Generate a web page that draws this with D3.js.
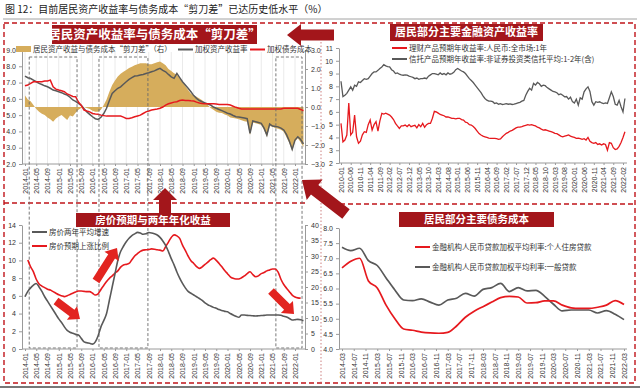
<!DOCTYPE html>
<html>
<head>
<meta charset="utf-8">
<script src="https://cdn.jsdelivr.net/npm/d3@7"></script>
<style>
body { margin: 0; background: #fff; }
svg { font-family: "Noto Sans CJK SC", "Noto Sans", sans-serif; }
</style>
</head>
<body>
<svg id="chart" width="640" height="389"></svg>
<script>
/* Figure 12: household asset yield vs debt cost ("scissors gap") */

// ---- top-left: monthly, 2014-01 .. 2022-04
const tlTicks = ["2014-01","2014-05","2014-09","2015-01","2015-05","2015-09","2016-01","2016-05","2016-09",
  "2017-01","2017-05","2017-09","2018-01","2018-05","2018-09","2019-01","2019-05","2019-09",
  "2020-01","2020-05","2020-09","2021-01","2021-05","2021-09","2022-01"];
const assetYield = [7.4,7.3,7.25,7.15,7.05,6.95,6.88,6.8,6.74,6.65,
  6.54,6.5,6.44,6.38,6.3,6.23,6.1,5.93,5.85,5.72,
  5.6,5.4,5.2,5.05,4.9,4.78,4.74,4.87,5.1,5.42,
  5.9,6.33,6.5,6.65,6.74,6.9,7.05,7.2,7.3,7.4,
  7.42,7.46,7.5,7.56,7.6,7.66,7.72,7.8,7.87,7.75,
  7.66,7.5,7.35,7.26,7.56,7.3,7.05,6.85,6.65,6.44,
  6.2,6.03,5.9,5.82,5.75,5.68,5.62,5.5,5.42,5.35,
  5.28,5.2,5.12,5.07,4.98,4.9,4.88,4.85,4.82,4.78,
  3.88,4.65,4.6,4.55,4.5,4.2,3.78,4.45,4.33,4.3,
  4.28,4.2,4.09,3.8,3.4,2.9,3.47,3.67,3.5,3.23];
const debtCost = [6.8,6.85,6.95,7.05,7.05,7.05,7.05,7.1,7.1,7.15,
  6.74,6.6,6.54,6.5,6.44,6.3,6.23,6.15,6.13,5.8,
  5.6,5.31,5.25,5.2,5.1,5.07,5.05,5.0,4.97,4.94,
  4.94,4.94,4.94,4.94,4.94,4.88,4.8,4.8,4.84,4.9,
  4.95,5.0,5.1,5.2,5.25,5.31,5.35,5.38,5.42,5.5,
  5.62,5.7,5.75,5.8,5.82,5.9,5.93,5.9,5.9,5.88,
  5.87,5.8,5.75,5.72,5.7,5.7,5.7,5.7,5.68,5.65,
  5.65,5.65,5.65,5.62,5.55,5.48,5.42,5.38,5.38,5.38,
  5.38,5.38,5.38,5.38,5.38,5.38,5.38,5.38,5.38,5.38,
  5.38,5.38,5.42,5.42,5.42,5.42,5.42,5.42,5.35,5.27];
const scissorGap = [0.6,0.4,0.3,0.1,-0.1,-0.25,-0.35,-0.42,-0.55,-0.65,
  -0.77,-0.6,-0.5,-0.42,-0.55,-0.68,-0.45,-0.5,-0.3,-0.15,
  -0.05,0.0,-0.05,-0.1,-0.2,-0.25,-0.25,-0.15,0.1,0.4,
  0.8,1.16,1.4,1.6,1.75,1.86,1.95,2.05,2.12,2.2,
  2.25,2.3,2.3,2.3,2.25,2.25,2.3,2.35,2.4,2.3,
  2.2,2.0,1.9,1.77,1.7,1.5,1.3,1.1,0.9,0.7,
  0.6,0.54,0.45,0.35,0.2,0.1,-0.05,-0.15,-0.25,-0.3,
  -0.32,-0.4,-0.45,-0.55,-0.58,-0.6,-0.65,-0.7,-0.75,-0.77,
  -1.47,-0.82,-0.86,-0.9,-0.95,-1.2,-1.56,-1.0,-1.04,-1.1,
  -1.15,-1.2,-1.3,-1.6,-1.9,-2.3,-1.8,-1.65,-1.85,-2.1];
// highlighted periods (month index from 2014-01)
const periods = [[1.5, 18.5], [26.3, 43.7], [89.2, 98.5]];

// ---- bottom-left: monthly, same months
const houseGrowth = [5.9,6.5,6.9,7.2,7.4,7.0,6.5,5.9,5.4,4.9,
  4.4,3.9,3.4,3.0,2.5,2.1,1.9,1.77,1.65,1.58,
  1.2,0.8,0.7,0.64,0.55,0.8,1.5,2.5,3.2,4.0,
  5.5,7.0,8.5,10.0,11.0,11.6,12.1,12.5,12.8,13.0,
  13.17,13.1,12.95,13.0,13.15,13.1,13.0,12.87,12.6,12.2,
  11.7,11.0,10.2,9.5,8.7,8.0,7.4,6.9,6.5,6.3,
  6.1,5.9,5.7,5.5,5.2,5.0,4.85,4.7,4.6,4.45,
  4.35,4.25,4.2,4.0,3.84,3.7,3.58,3.84,3.84,3.8,
  3.78,3.75,3.72,3.75,3.78,3.8,3.84,3.84,3.84,3.84,
  3.84,3.8,3.7,3.6,3.45,3.27,3.3,3.35,3.3,3.2];
const expectStart = 1; // starts 2014-02
const houseExpect = [28.7,26.5,24.9,22.5,21.0,20.3,19.8,19.3,19.0,18.5,
  18.0,17.5,17.2,16.9,17.2,17.6,18.0,18.4,18.7,18.7,
  18.6,18.5,18.5,18.0,17.4,17.8,19.2,20.5,21.8,22.8,
  23.6,24.5,25.2,26.4,27.1,27.3,27.6,28.8,30.0,30.8,
  31.5,31.9,32.0,32.1,32.3,32.2,32.0,31.9,31.6,33.0,
  34.5,36.0,36.8,36.5,35.7,33.5,31.8,30.0,28.5,27.6,
  26.6,26.0,26.5,27.3,28.0,28.8,29.3,28.6,27.6,26.5,
  25.3,24.3,23.3,22.8,22.6,22.6,23.0,23.6,24.3,24.9,
  24.0,23.3,23.6,24.3,24.7,25.2,25.5,25.8,25.8,24.8,
  22.5,20.8,19.6,18.5,17.4,16.8,16.5,16.4];

// ---- top-right: monthly, 2010-01 .. 2022-03
const trTicks = ["2010-01","2010-06","2010-11","2011-04","2011-09","2012-02","2012-07","2012-12","2013-05","2013-10",
  "2014-03","2014-08","2015-01","2015-06","2015-11","2016-04","2016-09","2017-02","2017-07","2017-12",
  "2018-05","2018-10","2019-03","2019-08","2020-01","2020-06","2020-11","2021-04","2021-09","2022-02"];
const wealthYield = [5.1,3.66,3.8,4.19,6.7,4.19,4.4,5.75,4.05,3.54,
  3.7,4.2,4.45,4.4,5.0,5.36,4.58,5.0,5.23,4.5,
  5.3,5.88,5.83,5.9,5.83,5.75,5.6,5.4,5.1,4.9,
  4.71,4.9,4.9,4.97,4.85,5.0,4.84,4.9,4.95,4.75,
  5.0,4.84,5.1,4.8,5.0,5.1,5.1,5.5,6.05,6.0,
  5.9,5.8,5.75,5.7,5.6,5.6,5.55,5.5,5.5,5.45,
  5.5,5.5,5.4,5.36,5.2,5.15,5.0,4.97,4.85,4.7,
  4.5,4.3,4.19,4.1,4.05,4.0,3.95,3.93,3.92,3.93,
  3.9,3.85,3.88,4.05,4.2,4.32,4.4,4.5,4.55,4.65,
  4.75,4.8,4.8,4.84,4.9,4.95,5.0,4.97,5.0,4.95,
  4.9,4.8,4.75,4.65,4.58,4.6,4.55,4.5,4.45,4.4,
  4.32,4.3,4.2,4.1,4.05,4.1,4.15,4.2,4.1,4.05,
  4.0,3.93,3.95,3.9,3.85,3.9,3.8,4.0,3.7,3.6,
  3.54,3.6,3.45,3.5,3.41,3.5,3.45,3.0,3.6,3.54,
  3.2,3.05,3.1,3.3,3.6,4.0,4.45];
const trustYield = [8.4,7.2,7.3,7.45,7.7,7.96,7.7,8.09,8.0,8.35,
  8.3,8.45,8.6,8.55,8.6,8.8,9.0,9.13,9.13,9.25,
  9.4,9.52,9.7,9.6,9.55,9.52,9.3,9.2,9.0,9.05,
  8.95,8.9,8.87,8.9,8.87,8.8,8.75,8.7,8.6,8.65,
  8.55,8.6,8.6,8.65,8.6,8.8,8.9,9.0,9.0,8.95,
  8.9,9.05,8.93,9.0,8.9,9.05,8.95,9.0,9.1,9.3,
  9.4,9.3,9.2,9.13,9.0,8.8,8.6,8.45,8.3,8.1,
  7.9,7.7,7.5,7.25,7.05,6.92,6.85,6.85,6.8,6.66,
  6.7,6.6,6.65,6.58,6.6,6.65,6.6,6.62,6.58,6.6,
  6.65,6.7,6.75,6.84,6.9,7.3,7.6,7.84,7.7,8.23,
  8.1,8.3,8.2,8.0,8.09,8.05,7.9,7.8,7.7,7.6,
  7.57,7.5,7.35,7.4,7.3,7.18,7.2,7.0,7.15,6.8,
  6.7,7.0,6.53,7.1,7.0,7.57,7.8,7.96,7.6,6.8,
  6.53,6.8,6.75,6.79,6.7,6.65,6.7,6.66,7.1,7.57,
  7.2,6.6,6.53,6.9,6.4,6.0,7.05];

// ---- bottom-right: quarterly, 2014-03 .. 2022-03
const brTicks = ["2014-03","2014-07","2014-11","2015-03","2015-07","2015-11","2016-03","2016-07","2016-11",
  "2017-03","2017-07","2017-11","2018-03","2018-07","2018-11","2019-03","2019-07","2019-11",
  "2020-03","2020-07","2020-11","2021-03","2021-07","2021-11","2022-03"];
const mortgageRate = [6.68,6.9,7.0,6.25,6.02,5.45,5.0,4.66,4.62,4.56,4.53,4.52,4.55,4.76,5.05,5.25,
  5.4,5.55,5.7,5.74,5.72,5.52,5.53,5.59,5.59,5.45,5.36,5.34,5.34,5.38,5.45,5.6,5.47];
const loanRate = [7.36,7.25,7.33,6.92,6.76,6.35,5.95,5.62,5.6,5.66,5.55,5.45,5.62,5.68,5.84,5.75,
  5.97,6.03,6.17,5.9,6.03,5.92,5.94,5.74,5.48,5.26,5.29,5.29,5.29,5.19,5.27,5.15,4.97];

const RED = "#e6191e", GRAY = "#595959", TAN = "#d6ad5c", DARKRED = "#a3161b";

const svg = d3.select("#chart");

styleAxis = (g, rotate) => {
  g.attr("font-family", "'Liberation Sans', Arial, sans-serif");
  g.select(".domain").attr("stroke", "#9a9a9a");
  g.selectAll(".tick line").attr("stroke", "#9a9a9a");
  g.selectAll(".tick text").attr("fill", "#333").style("font-size", "7px");
  if (rotate) {
    g.selectAll(".tick text")
      .attr("transform", "rotate(-90)")
      .attr("text-anchor", "end")
      .attr("x", -4).attr("y", 0).attr("dy", "0.32em");
  }
};

blockArrow = (tail, tip, shaftW, headW, headL, fill) => {
  const dx = tip[0] - tail[0], dy = tip[1] - tail[1];
  const len = Math.hypot(dx, dy), ux = dx / len, uy = dy / len, px = -uy, py = ux;
  const bx = tip[0] - ux * headL, by = tip[1] - uy * headL;
  const pts = [
    [tail[0] + px * shaftW / 2, tail[1] + py * shaftW / 2],
    [bx + px * shaftW / 2, by + py * shaftW / 2],
    [bx + px * headW / 2, by + py * headW / 2],
    tip,
    [bx - px * headW / 2, by - py * headW / 2],
    [bx - px * shaftW / 2, by - py * shaftW / 2],
    [tail[0] - px * shaftW / 2, tail[1] - py * shaftW / 2]];
  svg.append("polygon").attr("points", pts.map(p => p.join(",")).join(" ")).attr("fill", fill);
};

titleBox = (x, y, w, h, txt, size) => {
  svg.append("rect").attr("x", x).attr("y", y).attr("width", w).attr("height", h).attr("fill", DARKRED);
  svg.append("text").attr("x", x + w / 2).attr("y", y + h / 2).attr("dy", "0.36em")
    .attr("text-anchor", "middle").attr("fill", "#fff").attr("font-weight", "bold")
    .style("font-size", size + "px").text(txt);
};

legendLine = (x, y, color, txt) => {
  svg.append("line").attr("x1", x).attr("x2", x + 15).attr("y1", y).attr("y2", y)
    .attr("stroke", color).attr("stroke-width", 2);
  svg.append("text").attr("x", x + 17).attr("y", y).attr("dy", "0.35em")
    .style("font-size", "7.5px").attr("fill", "#333").text(txt);
};

/* ---------- page title and frame ---------- */
svg.append("text").attr("x", 5).attr("y", 13).style("font-size", "10px").attr("fill", "#222")
  .text("图 12：目前居民资产收益率与债务成本“剪刀差”已达历史低水平（%）");
svg.append("line").attr("x1", 3).attr("x2", 637).attr("y1", 19).attr("y2", 19)
  .attr("stroke", "#8c8c8c").attr("stroke-width", 0.8);
svg.append("line").attr("x1", 0).attr("x2", 640).attr("y1", 387).attr("y2", 387)
  .attr("stroke", "#777").attr("stroke-width", 2);

const frame = svg.append("g").attr("fill", "none").attr("stroke", "#c0141a")
  .attr("stroke-width", 1.4).attr("stroke-dasharray", "5,3");
frame.append("rect").attr("x", 4).attr("y", 23).attr("width", 631).attr("height", 360);
frame.append("line").attr("x1", 4).attr("x2", 306).attr("y1", 203).attr("y2", 203);
frame.append("line").attr("x1", 340).attr("x2", 635).attr("y1", 204).attr("y2", 204);
svg.append("line").attr("x1", 321).attr("x2", 321).attr("y1", 42).attr("y2", 383)
  .attr("stroke", "#c06060").attr("stroke-width", 0.8).attr("stroke-dasharray", "1.5,2");

/* ---------- top-left: scissors gap ---------- */
const xM = d3.scaleLinear().domain([0, 96]).range([25, 295]);
const yTL = d3.scaleLinear().domain([2, 9]).range([164, 50]);
const yTR = d3.scaleLinear().domain([-3, 3]).range([164, 50]);
const tlTickVals = tlTicks.map((d, i) => i * 4);

svg.append("g").selectAll("line").data(tlTickVals).join("line")
  .attr("x1", d => xM(d)).attr("x2", d => xM(d)).attr("y1", 52).attr("y2", 164)
  .attr("stroke", "#e4e4e4").attr("stroke-width", 0.8);

svg.append("path").datum(scissorGap)
  .attr("fill", TAN)
  .attr("d", d3.area().x((d, i) => xM(i)).y0(yTR(0)).y1(d => yTR(d)));

svg.append("path").datum(assetYield).attr("fill", "none").attr("stroke", GRAY).attr("stroke-width", 1.5)
  .attr("d", d3.line().x((d, i) => xM(i)).y(d => yTL(d)));
svg.append("path").datum(debtCost).attr("fill", "none").attr("stroke", RED).attr("stroke-width", 1.5)
  .attr("d", d3.line().x((d, i) => xM(i)).y(d => yTL(d)));

svg.append("g").attr("transform", "translate(22,0)")
  .call(d3.axisLeft(yTL).tickValues(d3.range(2, 9.01, 1)).tickFormat(d3.format(".1f")).tickSize(3).tickSizeOuter(0))
  .call(g => styleAxis(g));
svg.append("g").attr("transform", "translate(305,0)")
  .call(d3.axisRight(yTR).tickValues(d3.range(-3, 3.01, 1)).tickSize(3).tickSizeOuter(0))
  .call(g => styleAxis(g));
svg.append("g").attr("transform", "translate(0,164)")
  .call(d3.axisBottom(xM).tickValues(tlTickVals).tickFormat((d, i) => tlTicks[i]).tickSize(2).tickSizeOuter(0))
  .call(g => g.select(".domain").attr("d", "M22,0H305"))
  .call(g => styleAxis(g, true));

// legend
svg.append("rect").attr("x", 16).attr("y", 46).attr("width", 15).attr("height", 6).attr("fill", TAN);
svg.append("text").attr("x", 33).attr("y", 49.5).attr("dy", "0.35em").style("font-size", "7.5px").attr("fill", "#333")
  .text("居民资产收益与债务成本“剪刀差”（右）");
legendLine(178, 49.5, GRAY, "加权资产收益率");
legendLine(250, 49.5, RED, "加权债务成本");

// highlighted period boxes spanning both left panels
svg.append("g").selectAll("rect").data(periods).join("rect")
  .attr("x", d => xM(d[0])).attr("width", d => xM(d[1]) - xM(d[0]))
  .attr("y", 57).attr("height", 291)
  .attr("fill", "none").attr("stroke", "#6a6a6a").attr("stroke-width", 0.9).attr("stroke-dasharray", "3,2");

/* ---------- bottom-left: house prices ---------- */
const yBL = d3.scaleLinear().domain([0, 14]).range([349, 225]);
const yBR2 = d3.scaleLinear().domain([0, 40]).range([349, 225]);

svg.append("path").datum(houseExpect).attr("fill", "none").attr("stroke", RED).attr("stroke-width", 1.6)
  .attr("d", d3.line().x((d, i) => xM(i + expectStart)).y(d => yBR2(d)).curve(d3.curveMonotoneX));
svg.append("path").datum(houseGrowth).attr("fill", "none").attr("stroke", GRAY).attr("stroke-width", 1.6)
  .attr("d", d3.line().x((d, i) => xM(i)).y(d => yBL(d)).curve(d3.curveMonotoneX));

svg.append("g").attr("transform", "translate(22,0)")
  .call(d3.axisLeft(yBL).tickValues(d3.range(0, 14.01, 2)).tickSize(3).tickSizeOuter(0))
  .call(g => styleAxis(g));
svg.append("g").attr("transform", "translate(305,0)")
  .call(d3.axisRight(yBR2).tickValues(d3.range(0, 40.01, 5)).tickSize(3).tickSizeOuter(0))
  .call(g => styleAxis(g));
svg.append("g").attr("transform", "translate(0,349)")
  .call(d3.axisBottom(xM).tickValues(tlTickVals).tickFormat((d, i) => tlTicks[i]).tickSize(2).tickSizeOuter(0))
  .call(g => g.select(".domain").attr("d", "M22,0H305"))
  .call(g => styleAxis(g, true));

legendLine(32, 232, GRAY, "房价两年平均增速");
legendLine(32, 246, RED, "房价预期上涨比例");

/* ---------- top-right: financial asset yields ---------- */
const xTR = d3.scaleLinear().domain([0, 145]).range([341, 623]);
const yTRc = d3.scaleLinear().domain([2, 11]).range([163, 48]);

svg.append("path").datum(trustYield).attr("fill", "none").attr("stroke", GRAY).attr("stroke-width", 1.3)
  .attr("d", d3.line().x((d, i) => xTR(i)).y(d => yTRc(d)));
svg.append("path").datum(wealthYield).attr("fill", "none").attr("stroke", RED).attr("stroke-width", 1.3)
  .attr("d", d3.line().x((d, i) => xTR(i)).y(d => yTRc(d)));

svg.append("g").attr("transform", "translate(339,0)")
  .call(d3.axisLeft(yTRc).tickValues(d3.range(2, 11.01, 1)).tickSize(3).tickSizeOuter(0))
  .call(g => styleAxis(g));
svg.append("g").attr("transform", "translate(0,163)")
  .call(d3.axisBottom(xTR).tickValues(trTicks.map((d, i) => i * 5)).tickFormat((d, i) => trTicks[i]).tickSize(2).tickSizeOuter(0))
  .call(g => g.select(".domain").attr("d", "M339,0H627"))
  .call(g => styleAxis(g, true));

legendLine(392, 48, RED, "理财产品预期年收益率:人民币:全市场:1年");
legendLine(392, 59, GRAY, "信托产品预期年收益率:非证券投资类信托平均:1-2年(含)");

/* ---------- bottom-right: debt costs ---------- */
const xBR = d3.scaleLinear().domain([0, 96]).range([342, 624]);
const yBRc = d3.scaleLinear().domain([4, 8]).range([349, 228]);

svg.append("path").datum(loanRate).attr("fill", "none").attr("stroke", GRAY).attr("stroke-width", 1.7)
  .attr("d", d3.line().x((d, i) => xBR(i * 3)).y(d => yBRc(d)).curve(d3.curveMonotoneX));
svg.append("path").datum(mortgageRate).attr("fill", "none").attr("stroke", RED).attr("stroke-width", 1.7)
  .attr("d", d3.line().x((d, i) => xBR(i * 3)).y(d => yBRc(d)).curve(d3.curveMonotoneX));

svg.append("g").attr("transform", "translate(339,0)")
  .call(d3.axisLeft(yBRc).tickValues(d3.range(4, 8.01, 0.5)).tickFormat(d3.format(".1f")).tickSize(3).tickSizeOuter(0))
  .call(g => styleAxis(g));
svg.append("g").attr("transform", "translate(0,349)")
  .call(d3.axisBottom(xBR).tickValues(brTicks.map((d, i) => i * 4)).tickFormat((d, i) => brTicks[i]).tickSize(2).tickSizeOuter(0))
  .call(g => g.select(".domain").attr("d", "M339,0H627"))
  .call(g => styleAxis(g, true));

legendLine(415, 247, RED, "金融机构人民币贷款加权平均利率:个人住房贷款");
legendLine(415, 267, GRAY, "金融机构人民币贷款加权平均利率:一般贷款");

/* ---------- panel titles and arrows ---------- */
titleBox(52, 25, 205, 19, "居民资产收益率与债务成本“剪刀差”", 12.5);
titleBox(390, 24, 153, 17, "居民部分主要金融资产收益率", 11);
titleBox(76, 213, 154, 14, "房价预期与两年年化收益", 10.5);
titleBox(399, 212, 155, 15, "居民部分主要债务成本", 10.5);

blockArrow([334, 35], [287, 35], 11, 22, 14, DARKRED);
blockArrow([346, 214], [302, 180], 12, 26, 16, DARKRED);
blockArrow([165, 213], [165, 188], 12, 24, 12, DARKRED);

blockArrow([56, 301], [80, 319], 8, 17, 10, "#e22420");
blockArrow([96, 281], [117, 248], 8, 17, 10, "#e22420");
blockArrow([271, 291], [294, 314], 8, 17, 10, "#e22420");
</script>
</body>
</html>
